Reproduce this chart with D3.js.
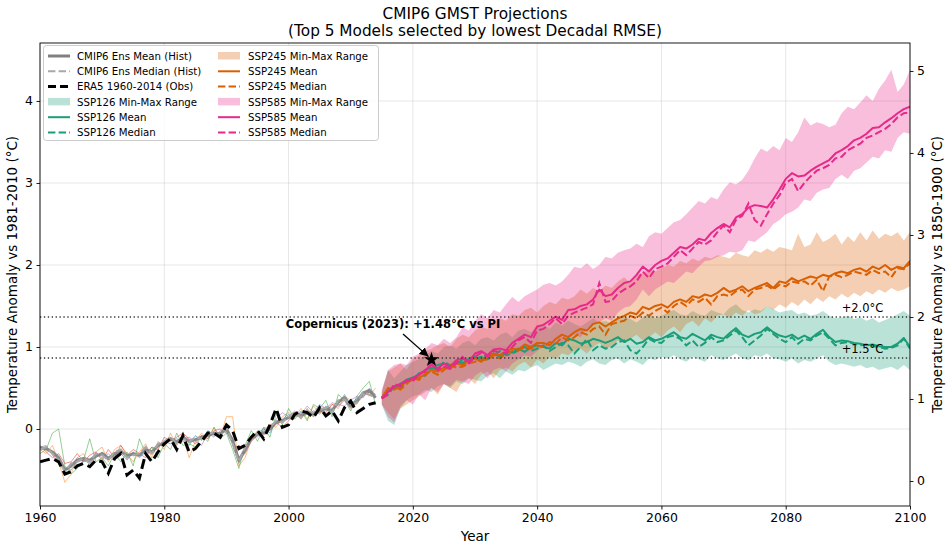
<!DOCTYPE html>
<html><head><meta charset="utf-8">
<script src="https://cdn.jsdelivr.net/npm/d3@7"></script>
<style>body{margin:0;background:#fff;} svg{font-family:"DejaVu Sans",sans-serif;display:block;}</style>
</head><body><svg id="c" width="950" height="547"></svg>
<script>
// ---------------- DATA ----------------
const histStart = 1960;
const futStart = 2015;
const xTicks = [1960,1980,2000,2020,2040,2060,2080,2100];
const yTicksLeft = [0,1,2,3,4];
const yTicksRight = [0,1,2,3,4,5];
const piOffset = 0.634; // 1850-1900 minus 1981-2010
const thresholds = [1.5, 2.0];
const copernicus = {year: 2023, value: 1.48};

const histMean = [-0.23,-0.24,-0.28,-0.35,-0.50,-0.45,-0.38,-0.36,-0.38,-0.33,-0.30,-0.36,-0.30,-0.27,-0.33,-0.30,-0.32,-0.25,-0.28,-0.20,-0.17,-0.12,-0.16,-0.10,-0.15,-0.13,-0.10,-0.08,-0.05,-0.06,0.00,-0.15,-0.38,-0.25,-0.12,-0.06,-0.05,0.00,0.08,0.10,0.14,0.18,0.16,0.20,0.18,0.22,0.25,0.22,0.33,0.38,0.28,0.34,0.44,0.47,0.38];
const histMedian = [-0.25,-0.22,-0.30,-0.38,-0.52,-0.42,-0.40,-0.35,-0.40,-0.30,-0.32,-0.38,-0.28,-0.25,-0.35,-0.32,-0.30,-0.22,-0.30,-0.18,-0.15,-0.10,-0.18,-0.12,-0.16,-0.10,-0.12,-0.06,-0.04,-0.08,0.02,-0.18,-0.40,-0.22,-0.10,-0.05,-0.08,0.02,0.10,0.08,0.15,0.20,0.14,0.22,0.16,0.24,0.26,0.20,0.35,0.36,0.30,0.32,0.45,0.42,0.38];
const era5 = [-0.40,-0.38,-0.36,-0.40,-0.55,-0.52,-0.45,-0.42,-0.46,-0.38,-0.40,-0.54,-0.36,-0.30,-0.56,-0.50,-0.60,-0.30,-0.40,-0.28,-0.18,-0.12,-0.25,-0.08,-0.28,-0.24,-0.15,-0.05,-0.05,-0.10,0.05,-0.02,-0.24,-0.20,-0.10,-0.02,-0.12,0.05,0.25,0.02,0.05,0.18,0.22,0.20,0.14,0.26,0.16,0.22,0.10,0.26,0.34,0.20,0.25,0.30,0.32];
const modelBlue = [-0.22,-0.25,-0.30,-0.38,-0.48,-0.50,-0.40,-0.38,-0.42,-0.35,-0.28,-0.34,-0.32,-0.30,-0.38,-0.28,-0.35,-0.28,-0.30,-0.22,-0.15,-0.18,-0.12,-0.15,-0.20,-0.08,-0.14,-0.02,-0.08,-0.04,0.02,-0.12,-0.42,-0.28,-0.10,-0.05,0.00,-0.05,0.10,0.12,0.18,0.15,0.20,0.18,0.22,0.18,0.28,0.25,0.30,0.42,0.30,0.38,0.40,0.48,0.38];
const modelOrange = [-0.25,-0.30,-0.20,-0.40,-0.65,-0.55,-0.35,-0.30,-0.45,-0.28,-0.22,-0.40,-0.25,-0.20,-0.30,-0.40,-0.28,-0.18,-0.35,-0.15,-0.25,-0.05,-0.20,-0.10,-0.35,-0.15,-0.05,-0.12,0.02,-0.10,0.15,0.15,-0.45,-0.35,-0.12,-0.02,-0.08,0.05,0.02,0.15,0.20,0.15,0.25,0.12,0.28,0.20,0.22,0.30,0.25,0.40,0.35,0.30,0.45,0.40,0.50];
const modelGreen = [-0.30,-0.25,-0.05,0.00,-0.45,-0.55,-0.48,-0.38,-0.12,-0.40,-0.35,-0.45,-0.30,-0.40,-0.28,-0.45,-0.12,-0.30,-0.22,-0.35,-0.18,-0.25,-0.05,-0.20,-0.18,-0.22,-0.08,-0.15,0.02,-0.12,-0.05,-0.25,-0.48,-0.20,-0.02,-0.15,0.02,-0.10,0.18,0.05,0.25,0.12,0.22,0.10,0.30,0.25,0.35,0.15,0.42,0.35,0.22,0.40,0.50,0.58,0.30];
const modelRed = [-0.20,-0.28,-0.35,-0.30,-0.42,-0.40,-0.30,-0.40,-0.32,-0.28,-0.38,-0.25,-0.35,-0.20,-0.32,-0.25,-0.30,-0.35,-0.22,-0.25,-0.10,-0.15,-0.10,-0.05,-0.12,-0.18,-0.08,-0.12,-0.02,0.00,-0.05,-0.10,-0.35,-0.30,-0.15,-0.08,-0.02,0.05,0.08,0.02,0.10,0.20,0.12,0.25,0.15,0.22,0.20,0.30,0.28,0.35,0.25,0.32,0.40,0.45,0.42];
const modelPurple = [-0.22,-0.20,-0.32,-0.42,-0.50,-0.45,-0.35,-0.40,-0.38,-0.30,-0.35,-0.30,-0.38,-0.28,-0.35,-0.30,-0.32,-0.25,-0.28,-0.20,-0.18,-0.10,-0.15,-0.12,-0.10,-0.15,-0.20,-0.05,-0.10,-0.02,0.00,-0.18,-0.40,-0.25,-0.08,-0.10,0.02,0.00,0.12,0.20,0.15,0.22,0.18,0.28,0.20,0.30,0.25,0.32,0.30,0.28,0.35,0.40,0.38,0.50,0.42];

const ssp126Mean = [0.38,0.48,0.50,0.55,0.60,0.63,0.66,0.72,0.74,0.78,0.80,0.75,0.82,0.80,0.86,0.88,0.84,0.90,0.92,0.88,0.95,0.93,0.98,0.94,1.00,1.02,1.00,0.98,1.05,1.02,1.10,1.08,1.04,1.06,1.10,1.08,1.05,1.08,1.12,1.06,1.10,1.04,1.06,1.12,1.08,1.10,1.14,1.18,1.12,1.10,1.16,1.12,1.08,1.15,1.12,1.10,1.17,1.23,1.15,1.12,1.16,1.18,1.24,1.18,1.14,1.12,1.15,1.10,1.14,1.10,1.16,1.21,1.12,1.06,1.08,1.07,1.05,1.04,1.02,1.03,1.01,1.00,1.00,1.04,1.11,1.00];
const ssp126Median = [0.38,0.42,0.52,0.50,0.58,0.60,0.68,0.65,0.75,0.72,0.82,0.78,0.80,0.84,0.82,0.86,0.88,0.85,0.90,0.95,0.90,0.92,0.96,1.00,0.95,0.98,1.02,0.95,1.00,1.05,1.02,0.92,1.00,1.10,0.96,1.02,0.98,1.00,1.06,1.08,0.96,0.92,1.00,1.10,1.06,1.05,1.12,1.14,1.10,1.02,1.08,1.00,1.05,1.12,1.06,1.08,1.14,1.20,1.12,1.02,1.08,1.14,1.22,1.16,1.10,1.06,1.12,1.04,1.10,1.08,1.14,1.18,1.10,1.02,1.05,1.06,1.04,1.02,1.03,1.01,1.00,0.98,0.99,1.02,1.10,0.98];
const ssp126Min = [0.30,0.10,0.05,0.25,0.35,0.40,0.42,0.48,0.45,0.52,0.55,0.50,0.58,0.55,0.62,0.60,0.58,0.65,0.68,0.62,0.70,0.66,0.72,0.70,0.75,0.78,0.72,0.76,0.80,0.78,0.82,0.80,0.76,0.82,0.85,0.80,0.78,0.84,0.86,0.80,0.85,0.82,0.78,0.86,0.84,0.88,0.86,0.90,0.85,0.82,0.88,0.85,0.82,0.90,0.86,0.84,0.88,0.92,0.86,0.84,0.90,0.88,0.92,0.86,0.85,0.82,0.86,0.80,0.84,0.82,0.86,0.90,0.82,0.78,0.80,0.78,0.76,0.78,0.74,0.76,0.72,0.74,0.76,0.72,0.78,0.72];
const ssp126Max = [0.45,0.72,0.62,0.70,0.78,0.82,0.85,0.90,0.95,0.92,1.00,1.02,0.98,1.05,1.08,1.02,1.10,1.12,1.08,1.15,1.18,1.12,1.20,1.22,1.18,1.25,1.28,1.22,1.30,1.26,1.32,1.28,1.25,1.30,1.35,1.30,1.32,1.28,1.35,1.38,1.34,1.30,1.36,1.40,1.35,1.38,1.42,1.45,1.40,1.38,1.44,1.40,1.38,1.45,1.42,1.40,1.48,1.52,1.45,1.42,1.46,1.44,1.50,1.46,1.42,1.44,1.45,1.40,1.42,1.38,1.40,1.44,1.38,1.35,1.36,1.38,1.34,1.36,1.32,1.35,1.30,1.33,1.36,1.40,1.44,1.38];

const ssp245Mean = [0.38,0.50,0.48,0.52,0.58,0.60,0.63,0.66,0.72,0.70,0.75,0.73,0.80,0.78,0.83,0.86,0.82,0.88,0.92,0.90,0.95,0.98,0.97,1.03,1.00,1.05,1.05,1.02,1.10,1.15,1.12,1.18,1.22,1.20,1.28,1.30,1.25,1.30,1.35,1.38,1.42,1.40,1.49,1.46,1.50,1.52,1.48,1.55,1.58,1.55,1.62,1.60,1.64,1.62,1.66,1.72,1.67,1.70,1.74,1.68,1.72,1.75,1.78,1.72,1.80,1.78,1.84,1.80,1.83,1.86,1.84,1.88,1.86,1.90,1.92,1.90,1.94,1.96,1.92,1.98,1.95,2.00,1.94,1.98,1.96,2.05];
const ssp245Median = [0.38,0.45,0.52,0.48,0.55,0.62,0.60,0.68,0.70,0.66,0.72,0.78,0.75,0.76,0.80,0.82,0.85,0.84,0.90,0.86,0.92,0.95,0.96,1.00,0.98,1.02,1.00,1.06,1.04,1.12,1.08,1.12,1.18,1.15,1.22,1.25,1.15,1.28,1.30,1.32,1.38,1.35,1.42,1.38,1.44,1.48,1.42,1.50,1.55,1.50,1.58,1.55,1.60,1.52,1.62,1.64,1.62,1.68,1.70,1.62,1.70,1.72,1.75,1.70,1.76,1.74,1.80,1.78,1.80,1.75,1.82,1.68,1.86,1.88,1.85,1.88,1.92,1.90,1.88,1.94,1.90,1.92,1.85,1.96,1.95,2.02];
const ssp245Min = [0.30,0.20,0.12,0.25,0.30,0.35,0.40,0.45,0.50,0.42,0.55,0.50,0.45,0.58,0.62,0.55,0.66,0.70,0.62,0.72,0.75,0.70,0.78,0.82,0.75,0.85,0.80,0.88,0.85,0.92,0.90,0.95,0.98,0.92,1.00,1.05,0.98,1.02,1.08,1.05,1.10,1.15,1.08,1.12,1.18,1.12,1.20,1.25,1.18,1.28,1.32,1.25,1.35,1.30,1.38,1.40,1.35,1.42,1.38,1.45,1.40,1.42,1.50,1.45,1.52,1.48,1.55,1.50,1.58,1.52,1.60,1.55,1.62,1.58,1.65,1.60,1.66,1.62,1.68,1.64,1.70,1.66,1.72,1.68,1.70,1.74];
const ssp245Max = [0.45,0.70,0.75,0.80,0.72,0.85,0.90,0.95,0.98,1.02,1.05,1.00,1.10,1.15,1.12,1.20,1.25,1.22,1.30,1.35,1.32,1.40,1.38,1.45,1.48,1.42,1.50,1.55,1.52,1.60,1.58,1.62,1.70,1.65,1.72,1.68,1.75,1.72,1.80,1.85,1.78,1.88,1.90,1.95,1.92,1.96,2.00,1.98,2.05,2.02,2.08,2.05,2.10,2.08,2.12,2.10,2.08,2.15,2.12,2.10,2.18,2.15,2.20,2.16,2.22,2.20,2.18,2.38,2.22,2.25,2.40,2.28,2.32,2.38,2.25,2.35,2.28,2.40,2.30,2.42,2.32,2.38,2.35,2.40,2.30,2.40];

const ssp585Mean = [0.37,0.45,0.52,0.55,0.58,0.62,0.66,0.72,0.78,0.74,0.80,0.76,0.84,0.86,0.82,0.92,0.95,0.90,0.97,0.98,0.96,1.05,1.10,1.15,1.12,1.25,1.27,1.32,1.37,1.33,1.45,1.46,1.50,1.52,1.58,1.70,1.62,1.64,1.72,1.78,1.80,1.88,1.98,1.92,2.00,2.05,2.08,2.15,2.22,2.20,2.25,2.32,2.30,2.39,2.45,2.50,2.46,2.58,2.62,2.70,2.73,2.72,2.70,2.80,2.92,3.05,3.12,3.08,3.09,3.15,3.20,3.24,3.28,3.36,3.40,3.45,3.52,3.55,3.60,3.67,3.68,3.74,3.79,3.85,3.90,3.93];
const ssp585Median = [0.37,0.42,0.55,0.52,0.60,0.58,0.68,0.70,0.80,0.72,0.76,0.74,0.80,0.88,0.80,0.88,0.93,0.88,0.95,0.94,0.92,1.00,1.08,1.12,1.05,1.20,1.22,1.28,1.35,1.28,1.38,1.42,1.45,1.48,1.52,1.78,1.55,1.56,1.65,1.70,1.74,1.80,1.92,1.84,1.95,1.98,2.02,2.10,2.18,2.12,2.20,2.28,2.25,2.30,2.40,2.48,2.40,2.55,2.60,2.75,2.55,2.48,2.62,2.75,2.85,3.00,3.05,2.90,3.00,3.08,3.15,3.18,3.22,3.30,3.32,3.40,3.44,3.48,3.55,3.58,3.62,3.66,3.72,3.80,3.85,3.86];
const ssp585Min = [0.30,0.15,0.08,0.28,0.35,0.30,0.42,0.35,0.50,0.45,0.55,0.52,0.60,0.58,0.55,0.65,0.70,0.62,0.72,0.75,0.70,0.80,0.85,0.90,0.88,0.95,1.00,0.98,1.05,1.02,1.10,1.15,1.12,1.22,1.28,1.30,1.35,1.32,1.42,1.48,1.50,1.58,1.70,1.62,1.70,1.75,1.80,1.78,1.85,1.92,1.90,1.98,2.05,2.06,2.10,2.12,2.16,2.15,2.18,2.30,2.28,2.34,2.40,2.50,2.55,2.62,2.65,2.70,2.80,2.78,2.88,2.92,2.94,3.05,3.10,3.05,3.15,3.18,3.25,3.32,3.30,3.40,3.38,3.55,3.62,3.60];
const ssp585Max = [0.48,0.72,0.78,0.80,0.78,0.88,0.92,0.98,1.05,1.02,1.10,1.05,1.12,1.24,1.20,1.32,1.40,1.35,1.45,1.42,1.52,1.61,1.55,1.62,1.66,1.70,1.76,1.78,1.75,1.80,1.88,1.98,1.96,2.02,1.95,2.00,2.10,2.08,2.15,2.18,2.20,2.26,2.22,2.35,2.40,2.38,2.45,2.52,2.55,2.62,2.70,2.78,2.75,2.83,2.80,2.92,3.01,2.98,3.04,3.15,3.30,3.42,3.38,3.45,3.40,3.55,3.50,3.62,3.80,3.70,3.74,3.72,3.68,3.71,3.85,3.93,3.90,3.98,4.07,4.00,4.15,4.25,4.38,4.11,4.20,4.38];

const modelColors = ["#1f77b4","#ff7f0e","#2ca02c","#d62728","#9467bd"];
const scenarioColors = {ssp126:"#1b9e77", ssp245:"#d95f02", ssp585:"#e7298a"};

// ---------------- CHART ----------------
const svg = d3.select("#c");
const L = 40, R = 910, T = 43, B = 506;
const x = d3.scaleLinear().domain([1960, 2100]).range([L, R]);
const y = d3.scaleLinear().domain([-0.939, 4.707]).range([B, T]);
const yR = d3.scaleLinear().domain([-0.939 + piOffset, 4.707 + piOffset]).range([B, T]);

svg.append("defs").append("clipPath").attr("id","clip")
  .append("rect").attr("x",L).attr("y",T).attr("width",R-L).attr("height",B-T);

// grid
const grid = svg.append("g");
xTicks.forEach(t => grid.append("line").attr("x1",x(t)).attr("x2",x(t)).attr("y1",T).attr("y2",B)
  .attr("stroke","#b0b0b0").attr("stroke-opacity",0.35).attr("stroke-width",0.9));
yTicksLeft.forEach(t => grid.append("line").attr("x1",L).attr("x2",R).attr("y1",y(t)).attr("y2",y(t))
  .attr("stroke","#b0b0b0").attr("stroke-opacity",0.35).attr("stroke-width",0.9));

const plot = svg.append("g").attr("clip-path","url(#clip)");
const histYears = histMean.map((_, i) => histStart + i);
const futYears = ssp126Mean.map((_, i) => futStart + i);
const line = (years) => d3.line().x((d,i)=>x(years[i])).y(d=>y(d));
const area = (years, lo, hi) => d3.area().x((d,i)=>x(years[i])).y0((d,i)=>y(lo[i])).y1((d,i)=>y(hi[i]));

// individual models
[modelBlue, modelOrange, modelGreen, modelRed, modelPurple].forEach((m, k) => {
  plot.append("path").attr("d", line(histYears)(m)).attr("fill","none")
    .attr("stroke", modelColors[k]).attr("stroke-width",1).attr("stroke-opacity",0.5);
});
plot.append("path").attr("d", line(histYears)(histMean)).attr("fill","none")
  .attr("stroke","#808080").attr("stroke-width",3).attr("stroke-opacity",0.9).attr("stroke-linejoin","round");
plot.append("path").attr("d", line(histYears)(histMedian)).attr("fill","none")
  .attr("stroke","#a8a8a8").attr("stroke-width",2).attr("stroke-dasharray","7.4,3.2");
plot.append("path").attr("d", line(histYears)(era5)).attr("fill","none")
  .attr("stroke","#000").attr("stroke-width",3).attr("stroke-dasharray","10,5");

const scen = [
  {key:"ssp126", mean:ssp126Mean, med:ssp126Median, lo:ssp126Min, hi:ssp126Max},
  {key:"ssp245", mean:ssp245Mean, med:ssp245Median, lo:ssp245Min, hi:ssp245Max},
  {key:"ssp585", mean:ssp585Mean, med:ssp585Median, lo:ssp585Min, hi:ssp585Max}
];
scen.forEach(s => {
  plot.append("path").attr("d", area(futYears, s.lo, s.hi)(s.mean))
    .attr("fill", scenarioColors[s.key]).attr("fill-opacity",0.3).attr("stroke","none");
});
scen.forEach(s => {
  plot.append("path").attr("d", line(futYears)(s.mean)).attr("fill","none")
    .attr("stroke", scenarioColors[s.key]).attr("stroke-width",2).attr("stroke-linejoin","round");
  plot.append("path").attr("d", line(futYears)(s.med)).attr("fill","none")
    .attr("stroke", scenarioColors[s.key]).attr("stroke-width",2).attr("stroke-dasharray","7.4,3.2");
});

// thresholds
thresholds.forEach(t => {
  svg.append("line").attr("x1",L).attr("x2",R).attr("y1",y(t-piOffset)).attr("y2",y(t-piOffset))
    .attr("stroke","#333").attr("stroke-width",1.3).attr("stroke-dasharray","1.3,2.6");
  svg.append("text").attr("x", x(2089)).attr("y", y(t-piOffset)-4.5)
    .attr("font-size",11.5).attr("fill","#000").text("+" + t.toFixed(1) + "°C");
});

// Copernicus annotation
const sx = x(copernicus.year), sy = y(copernicus.value - piOffset);
svg.append("defs").append("marker").attr("id","arr").attr("viewBox","0 0 10 10")
  .attr("refX",10).attr("refY",5).attr("markerWidth",9).attr("markerHeight",9)
  .attr("markerUnits","userSpaceOnUse").attr("orient","auto")
  .append("path").attr("d","M0,0 L10,5 L0,10 Z").attr("fill","#000");
svg.append("line").attr("x1",403).attr("y1",334).attr("x2",sx-3).attr("y2",sy-3)
  .attr("stroke","#000").attr("stroke-width",1.3).attr("marker-end","url(#arr)");
svg.append("path").attr("d", d3.symbol(d3.symbolStar).size(70)())
  .attr("transform",`translate(${sx},${sy})`).attr("fill","#000");
svg.append("text").attr("x",393).attr("y",328).attr("text-anchor","middle")
  .attr("font-size",11.5).attr("font-weight","bold")
  .text(`Copernicus (${copernicus.year}): +${copernicus.value.toFixed(2)}°C vs PI`);

// axes
const ax = svg.append("g").attr("transform",`translate(0,${B})`)
  .call(d3.axisBottom(x).tickValues(xTicks).tickFormat(d3.format("d")).tickSize(3.5).tickPadding(3.5));
const ay = svg.append("g").attr("transform",`translate(${L},0)`)
  .call(d3.axisLeft(y).tickValues(yTicksLeft).tickFormat(d3.format("d")).tickSize(3.5).tickPadding(3.5));
const ayR = svg.append("g").attr("transform",`translate(${R},0)`)
  .call(d3.axisRight(yR).tickValues(yTicksRight).tickFormat(d3.format("d")).tickSize(3.5).tickPadding(3.5));
[ax, ay, ayR].forEach(g => {
  g.select(".domain").remove();
  g.selectAll("text").attr("font-size",12.5).attr("font-family","DejaVu Sans").attr("fill","#000");
  g.selectAll("line").attr("stroke","#000").attr("stroke-width",0.9);
});
svg.append("rect").attr("x",L).attr("y",T).attr("width",R-L).attr("height",B-T)
  .attr("fill","none").attr("stroke","#000").attr("stroke-width",0.9);

// labels
svg.append("text").attr("x",(L+R)/2).attr("y",541).attr("text-anchor","middle").attr("font-size",13.5).text("Year");
svg.append("text").attr("transform",`translate(17,${(T+B)/2}) rotate(-90)`).attr("text-anchor","middle")
  .attr("font-size",13.5).text("Temperature Anomaly vs 1981-2010 (°C)");
svg.append("text").attr("transform",`translate(942,${(T+B)/2}) rotate(-90)`).attr("text-anchor","middle")
  .attr("font-size",13.5).text("Temperature Anomaly vs 1850-1900 (°C)");
svg.append("text").attr("x",475).attr("y",19).attr("text-anchor","middle").attr("font-size",15.3).text("CMIP6 GMST Projections");
svg.append("text").attr("x",475).attr("y",36).attr("text-anchor","middle").attr("font-size",15.3).text("(Top 5 Models selected by lowest Decadal RMSE)");

// legend
const lg = svg.append("g");
lg.append("rect").attr("x",43.5).attr("y",45.5).attr("width",335).attr("height",95).attr("rx",3)
  .attr("fill","#fff").attr("fill-opacity",0.8).attr("stroke","#ccc").attr("stroke-width",1);
const items = [
  {t:"line", c:"#808080", w:3, d:null, label:"CMIP6 Ens Mean (Hist)"},
  {t:"line", c:"#a8a8a8", w:2, d:"7.4,3.2", label:"CMIP6 Ens Median (Hist)"},
  {t:"line", c:"#000", w:3, d:"8,4", label:"ERA5 1960-2014 (Obs)"},
  {t:"band", c:scenarioColors.ssp126, label:"SSP126 Min-Max Range"},
  {t:"line", c:scenarioColors.ssp126, w:2, d:null, label:"SSP126 Mean"},
  {t:"line", c:scenarioColors.ssp126, w:2, d:"7.4,3.2", label:"SSP126 Median"},
  {t:"band", c:scenarioColors.ssp245, label:"SSP245 Min-Max Range"},
  {t:"line", c:scenarioColors.ssp245, w:2, d:null, label:"SSP245 Mean"},
  {t:"line", c:scenarioColors.ssp245, w:2, d:"7.4,3.2", label:"SSP245 Median"},
  {t:"band", c:scenarioColors.ssp585, label:"SSP585 Min-Max Range"},
  {t:"line", c:scenarioColors.ssp585, w:2, d:null, label:"SSP585 Mean"},
  {t:"line", c:scenarioColors.ssp585, w:2, d:"7.4,3.2", label:"SSP585 Median"}
];
items.forEach((it, i) => {
  const col = Math.floor(i / 6), row = i % 6;
  const hx = col === 0 ? 48 : 218, tx = col === 0 ? 77 : 248;
  const cy = 56 + row * 15.3;
  if (it.t === "line") {
    lg.append("line").attr("x1",hx).attr("x2",hx+22).attr("y1",cy).attr("y2",cy)
      .attr("stroke",it.c).attr("stroke-width",it.w).attr("stroke-dasharray",it.d);
  } else {
    lg.append("rect").attr("x",hx).attr("y",cy-4).attr("width",22).attr("height",7.5)
      .attr("fill",it.c).attr("fill-opacity",0.3);
  }
  lg.append("text").attr("x",tx).attr("y",cy+3.6).attr("font-size",10.2).text(it.label);
});
</script>
</body></html>
